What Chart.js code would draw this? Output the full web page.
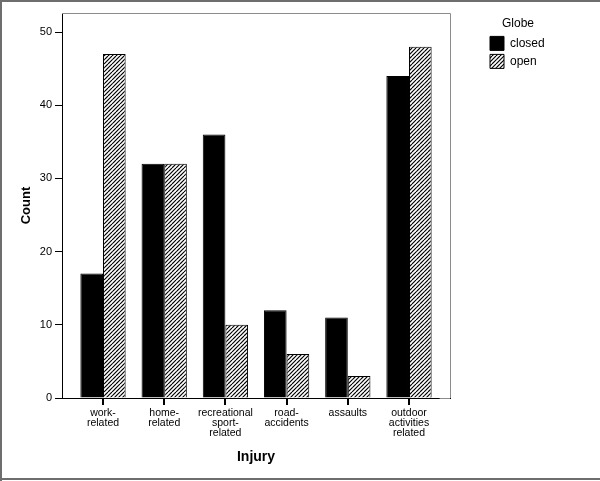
<!DOCTYPE html>
<html>
<head>
<meta charset="utf-8">
<script src="https://cdn.jsdelivr.net/npm/chart.js@4"></script>
<style>
  body { margin: 0; background: #fff; }
  canvas { display: block; }
</style>
</head>
<body>
<canvas id="myChart" width="600" height="481"></canvas>
<script>
const categoryLabels = [
    ['work-', 'related'],
    ['home-', 'related'],
    ['recreational', 'sport-', 'related'],
    ['road-', 'accidents'],
    ['assaults'],
    ['outdoor', 'activities', 'related']
];
const seriesNames = ['closed', 'open'];
const closedCounts = [17, 32, 36, 12, 11, 44];
const openCounts = [47, 32, 10, 6, 3, 48];
const yTicks = [0, 10, 20, 30, 40, 50];

// diagonal hatch for the "open" bars
function makeHatch() {
    const c = document.createElement('canvas');
    c.width = 8;
    c.height = 8;
    const g = c.getContext('2d');
    g.fillStyle = '#fff';
    g.fillRect(0, 0, 8, 8);
    g.strokeStyle = '#000';
    g.lineWidth = 1.2;
    for (let x0 = -8; x0 <= 8; x0 += 4) {
        g.beginPath();
        g.moveTo(x0, 8);
        g.lineTo(x0 + 8, 0);
        g.stroke();
    }
    return g.createPattern(c, 'repeat');
}
const hatch = makeHatch();

Chart.defaults.font.family = '"Liberation Sans", Arial, sans-serif';
Chart.defaults.color = '#000';

const frame = {
    id: 'frame',
    afterDraw(chart) {
        const ctx = chart.ctx;
        const a = chart.chartArea;
        const x = chart.scales.x;
        ctx.save();
        ctx.strokeStyle = '#8c8c8c';
        ctx.lineWidth = 1;
        ctx.beginPath();
        ctx.moveTo(a.left, a.top + 0.5);
        ctx.lineTo(a.right + 0.5, a.top + 0.5);
        ctx.lineTo(a.right + 0.5, a.bottom);
        ctx.moveTo(x.getPixelForValue(5.5), a.bottom + 0.5);
        ctx.lineTo(a.right, a.bottom + 0.5);
        ctx.stroke();
        // category tick marks under the x axis
        ctx.fillStyle = '#000';
        x.ticks.forEach(t => {
            const px = Math.round(x.getPixelForValue(t.value));
            ctx.fillRect(px - 1, a.bottom, 2, 7);
        });
        // outer picture border
        ctx.fillStyle = '#6e6e6e';
        ctx.fillRect(0, 0, 600, 2);
        ctx.fillRect(0, 0, 2, 481);
        ctx.fillRect(0, 478, 600, 2);
        ctx.restore();
    }
};

const data = {
    datasets: [{
        label: seriesNames[0],
        data: closedCounts.map((v, i) => ({ x: i, y: v })),
        backgroundColor: '#000',
        borderColor: '#000',
        borderWidth: 1,
        yAxisID: 'y'
    }, {
        label: seriesNames[1],
        data: openCounts.map((v, i) => ({ x: i, y: v })),
        backgroundColor: hatch,
        borderColor: '#000',
        borderWidth: 1,
        yAxisID: 'y'
    }]
};

const config = {
    type: 'bar',
    data: data,
    plugins: [frame],
    options: {
        responsive: false,
        animation: false,
        categoryPercentage: 0.74,
        barPercentage: 1,
        layout: {
            padding: { top: 13, right: 50, left: 0, bottom: 0 }
        },
        scales: {
            x: {
                type: 'linear',
                offset: false,
                min: -0.67,
                max: 5.67,
                afterBuildTicks: s => { s.ticks = categoryLabels.map((_, i) => ({ value: i })); },
                afterFit: s => { s.height = 83; },
                grid: { offset: false, drawOnChartArea: false, drawTicks: false },
                border: { color: '#000', width: 1 },
                ticks: {
                    autoSkip: false,
                    maxRotation: 0,
                    padding: 10,
                    font: { size: 10.5, lineHeight: 0.95 },
                    callback: v => categoryLabels[v]
                },
                title: {
                    display: true,
                    text: 'Injury',
                    font: { size: 14, weight: 'bold' },
                    padding: { top: 0, bottom: 15 }
                }
            },
            y: {
                min: 0,
                max: 52.6,
                afterBuildTicks: s => { s.ticks = yTicks.map(v => ({ value: v })); },
                afterFit: s => { s.width = 62; },
                grid: { drawOnChartArea: false, tickLength: 7, tickWidth: 1, tickColor: '#000' },
                border: { color: '#000', width: 1 },
                ticks: { padding: 3, font: { size: 11 } },
                title: {
                    display: true,
                    text: 'Count',
                    font: { size: 13, weight: 'bold' },
                    padding: { top: 19, bottom: 0 }
                }
            },
            y2: {
                position: 'right',
                grid: { display: false },
                border: { display: false },
                ticks: { display: false },
                afterFit: s => { s.width = 36; }
            }
        },
        plugins: {
            legend: {
                position: 'right',
                align: 'start',
                maxWidth: 64,
                title: {
                    display: true,
                    text: 'Globe',
                    font: { size: 12 },
                    padding: { top: 5, bottom: 0 }
                },
                labels: {
                    boxWidth: 14,
                    boxHeight: 14,
                    padding: 4,
                    font: { size: 12 }
                }
            },
            tooltip: { enabled: false }
        }
    }
};

const myChart = new Chart(
    document.getElementById('myChart'),
    config
);
</script>
</body>
</html>
